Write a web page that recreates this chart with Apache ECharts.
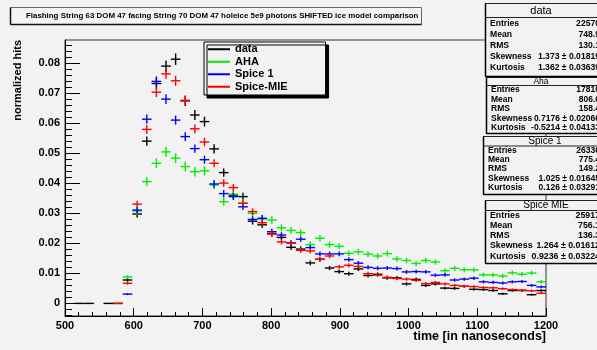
<!DOCTYPE html>
<html><head><meta charset="utf-8">
<script src="https://cdn.jsdelivr.net/npm/echarts@6/dist/echarts.min.js"></script>
<style>html,body{margin:0;padding:0;background:#f2f2f2}#c{width:597px;height:350px}</style>
</head><body><div id="c"></div>
<script>
// ---------------- data ----------------
const titleText = 'Flashing String 63 DOM 47 facing String 70 DOM 47 holeice 5e9 photons SHIFTED ice model comparison';
const xAxisTitle = 'time [in nanoseconds]';
const yAxisTitle = 'normalized hits';
const binWidth = 14;
const timeBins = [507,521,535,549,563,577,591,605,619,633,647,661,675,689,703,717,731,745,759,773,
  787,801,815,829,843,857,871,885,899,913,927,941,955,969,983,997,1011,1025,1039,1053,
  1067,1081,1095,1109,1123,1137,1151,1165,1179,1193];
const dataHits = [null,0,0,null,0,0,0.0078,0.0298,0.0541,0.0733,0.0791,0.0814,0.0675,0.0628,0.0606,0.0515,0.0436,0.0361,0.0356,0.0274,
  0.0262,0.0233,0.0220,0.0187,0.0181,0.0135,0.0147,0.0118,0.0106,0.0099,0.0115,0.0093,0.0097,0.0085,0.0085,0.0065,0.0080,0.0060,0.0065,0.0051,
  0.0050,0.0057,0.0047,0.0046,0.0043,0.0032,0.0043,0.0043,0.0029,0.0043];
const ahaHits = [null,null,null,null,null,0,0.0088,0.0308,0.0406,0.0467,0.0505,0.0484,0.0456,0.0439,0.0442,0.0395,0.0339,0.0364,0.0334,0.0300,
  0.0281,0.0278,0.0252,0.0243,0.0236,0.0196,0.0217,0.0196,0.0190,0.0167,0.0172,0.0164,0.0158,0.0166,0.0148,0.0143,0.0133,0.0143,0.0138,0.0109,
  0.0117,0.0112,0.0112,0.0095,0.0095,0.0091,0.0102,0.0097,0.0101,0.0072];
const spice1Hits = [null,null,null,null,null,null,0.0031,0.0311,0.0614,0.0740,0.0681,0.0611,0.0556,0.0516,0.0479,0.0398,0.0366,0.0356,0.0322,0.0280,
  0.0284,0.0239,0.0228,0.0202,0.0214,0.0186,0.0165,0.0165,0.0165,0.0146,0.0134,0.0120,0.0117,0.0118,0.0116,0.0105,0.0106,0.0105,0.0094,0.0095,
  0.0078,0.0081,0.0084,0.0072,0.0070,0.0068,0.0072,0.0073,0.0060,0.0055];
const spiceMieHits = [null,null,null,null,null,0,0.0067,0.0331,0.0580,0.0704,0.0765,0.0742,0.0677,0.0582,0.0538,0.0467,0.0401,0.0386,0.0334,0.0306,
  0.0269,0.0231,0.0205,0.0201,0.0177,0.0175,0.0147,0.0158,0.0122,0.0127,0.0123,0.0099,0.0094,0.0087,0.0083,0.0081,0.0077,0.0066,0.0070,0.0065,
  0.0060,0.0057,0.0056,0.0053,0.0052,0.0049,0.0046,0.0044,0.0042,0.0034];
const seriesNames = ['data','AHA','Spice 1','Spice-MIE'];
const yTickLabels = [0,0.01,0.02,0.03,0.04,0.05,0.06,0.07,0.08];
const statTitles = ['data','Aha','Spice 1','Spice MIE'];
const statEntries = [22570,17810,26336,25917];
const statMean = ['748.9','806.6','775.4','756.1'];
const statRMS = ['130.1','158.4','149.2','136.3'];
const statSkew = ['1.373 \u00b1 0.01819','0.7176 \u00b1 0.02066','1.025 \u00b1 0.01645','1.264 \u00b1 0.01612'];
const statKurt = ['1.362 \u00b1 0.03639','-0.5214 \u00b1 0.04133','0.126 \u00b1 0.03291','0.9236 \u00b1 0.03224'];
const statLabels = ['Entries','Mean','RMS','Skewness','Kurtosis'];

// ---------------- styling ----------------
const FONT = '"Liberation Sans", Arial, Helvetica, sans-serif';
const colors = ['#000000','#00ee00','#0000ff','#ff0000'];
const hitSets = [dataHits, ahaHits, spice1Hits, spiceMieHits];

function makeRender(entries){
  return function(params, api){
    const x = api.value(0), y = api.value(1);
    if (y == null || isNaN(y)) return null;
    const c = api.coord([x, y]);
    const xl = api.coord([x - binWidth/2, y])[0];
    const xr = api.coord([x + binWidth/2, y])[0];
    const err = Math.sqrt(Math.max(y,0)/entries);
    const yt = api.coord([x, y + err])[1];
    const yb = api.coord([x, y - err])[1];
    const st = {stroke: api.visual('color'), lineWidth: 1.4};
    const kids = [{type:'line', shape:{x1:xl,y1:c[1],x2:xr,y2:c[1]}, style:st}];
    if (yb - yt > 0.5) kids.push({type:'line', shape:{x1:c[0],y1:yt,x2:c[0],y2:yb}, style:st});
    return {type:'group', children:kids};
  };
}

const series = seriesNames.map((name,k)=>({
  name, type:'custom', color: colors[k], itemStyle:{color:colors[k]},
  renderItem: makeRender(statEntries[k]),
  encode:{x:0,y:1},
  data: timeBins.map((t,i)=>[t, hitSets[k][i]]),
  clip: true, z: 3 + k
}));

const yMinor = [];
for (let v = -0.004; v < 0.0878; v += 0.002) yMinor.push(+v.toFixed(4));

// stat boxes layout
const boxes = [
  {x:485, y:3,   h:73, ty:10.5, ly:17.5, rows:[23.5,34.5,45.5,57,68], fs:8.6, tfs:11, tx:541},
  {x:486, y:77,  h:56, ty:81.5, ly:85.5, rows:[90,99.5,109,118.5,128], fs:8.5, tfs:8.5, tx:541},
  {x:483, y:136, h:58, ty:141,  ly:146,  rows:[151,160,169,178.5,188], fs:8.5, tfs:10, tx:545},
  {x:485, y:200, h:63, ty:205.5,ly:210.5,rows:[215.5,225.5,235.5,246,256.5], fs:8.8, tfs:10, tx:546}
];
const graphics = [];
// title box
graphics.push({type:'rect', shape:{x:10.5,y:7.5,width:411,height:17}, style:{fill:'#f4f4f4', stroke:'#666', lineWidth:1}, z:10});
graphics.push({type:'line', shape:{x1:10.5,y1:7.5,x2:10.5,y2:24.5}, style:{stroke:'#111', lineWidth:1.5}, z:11});
graphics.push({type:'line', shape:{x1:10.5,y1:24.5,x2:421.5,y2:24.5}, style:{stroke:'#111', lineWidth:1.5}, z:11});
graphics.push({type:'text', x:26, y:16, style:{text:titleText, font:'bold 7.9px '+FONT, fill:'#000', align:'left', verticalAlign:'middle'}, z:12});
// axis titles
graphics.push({type:'text', x:17.5, y:40, rotation:Math.PI/2, style:{text:yAxisTitle, font:'bold 11px '+FONT, fill:'#000', align:'right', verticalAlign:'middle'}, z:12});
graphics.push({type:'text', x:546, y:337, style:{text:xAxisTitle, font:'bold 12.5px '+FONT, fill:'#000', align:'right', verticalAlign:'middle'}, z:12});
boxes.forEach((b,k)=>{
  graphics.push({type:'rect', shape:{x:b.x+0.5,y:b.y+0.5,width:130,height:b.h}, style:{fill:'#f2f2f2', stroke:'#222', lineWidth:1}, z:10});
  graphics.push({type:'line', shape:{x1:b.x+0.5,y1:b.y+0.5,x2:b.x+0.5,y2:b.y+b.h+0.5}, style:{stroke:'#000', lineWidth:1.5}, z:11});
  graphics.push({type:'line', shape:{x1:b.x+0.5,y1:b.y+b.h+0.5,x2:600,y2:b.y+b.h+0.5}, style:{stroke:'#000', lineWidth:1.5}, z:11});
  graphics.push({type:'line', shape:{x1:b.x,y1:b.ly,x2:600,y2:b.ly}, style:{stroke:'#222', lineWidth:1}, z:11});
  graphics.push({type:'text', x:b.tx, y:b.ty, style:{text:statTitles[k], font:b.tfs+'px '+FONT, fill:'#000', align:'center', verticalAlign:'middle'}, z:12});
  const vals = [String(statEntries[k]), statMean[k], statRMS[k], statSkew[k], statKurt[k]];
  statLabels.forEach((lab,r)=>{
    graphics.push({type:'text', x:b.x+5, y:b.rows[r], style:{text:lab, font:'bold '+b.fs+'px '+FONT, fill:'#000', align:'left', verticalAlign:'middle'}, z:12});
    graphics.push({type:'text', x:600, y:b.rows[r], style:{text:vals[r], font:'bold '+b.fs+'px '+FONT, fill:'#000', align:'right', verticalAlign:'middle'}, z:12});
  });
});

const chart = echarts.init(document.getElementById('c'), null, {renderer:'canvas'});
chart.setOption({
  backgroundColor:'#f2f2f2',
  animation:false,
  textStyle:{fontFamily:FONT},
  grid:{left:65, top:40, right:51, bottom:34, show:true, borderColor:'#333', borderWidth:1, backgroundColor:'transparent',
    containLabel:false, outerBoundsMode:'none'},
  legend:{
    data: seriesNames.map((n,k)=>({name:n, icon:'rect', itemStyle:{color:colors[k]}})),
    orient:'vertical', left:204, top:42, itemWidth:22, itemHeight:2, itemGap:0,
    padding:[1,38,2,4], selectedMode:false,
    backgroundColor:'#f2f2f2', borderColor:'#000', borderWidth:1,
    shadowColor:'#000', shadowOffsetX:3, shadowOffsetY:3, shadowBlur:0,
    textStyle:{fontFamily:FONT, fontWeight:'bold', fontSize:11, color:'#000', lineHeight:12.5}
  },
  xAxis:{
    type:'value', min:500, max:1200, interval:100,
    axisLine:{show:true, onZero:false, lineStyle:{color:'#000', width:1}},
    axisTick:{show:true, inside:true, length:8, lineStyle:{color:'#000'}},
    minorTick:{show:true, splitNumber:5, length:4, lineStyle:{color:'#000'}},
    axisLabel:{fontFamily:FONT, fontWeight:'bold', fontSize:11, color:'#000', margin:4, formatter:v=>String(v)},
    splitLine:{show:false}
  },
  yAxis:[{
    type:'value', min:-0.0042, max:0.0878,
    axisLine:{show:true, onZero:false, lineStyle:{color:'#000', width:1}},
    axisTick:{show:true, inside:true, length:15, customValues:yTickLabels, lineStyle:{color:'#000'}},
    axisLabel:{customValues:yTickLabels, fontFamily:FONT, fontWeight:'bold', fontSize:11, color:'#000', margin:5,
      formatter:v=> v===0 ? '0' : (+v).toFixed(2)},
    splitLine:{show:false}
  },{
    type:'value', min:-0.0042, max:0.0878, position:'left', offset:0,
    axisLine:{show:false},
    axisTick:{show:true, inside:true, length:7, customValues:yMinor, lineStyle:{color:'#000'}},
    axisLabel:{show:false},
    splitLine:{show:false}
  }],
  series,
  graphic: graphics
});
</script></body></html>
